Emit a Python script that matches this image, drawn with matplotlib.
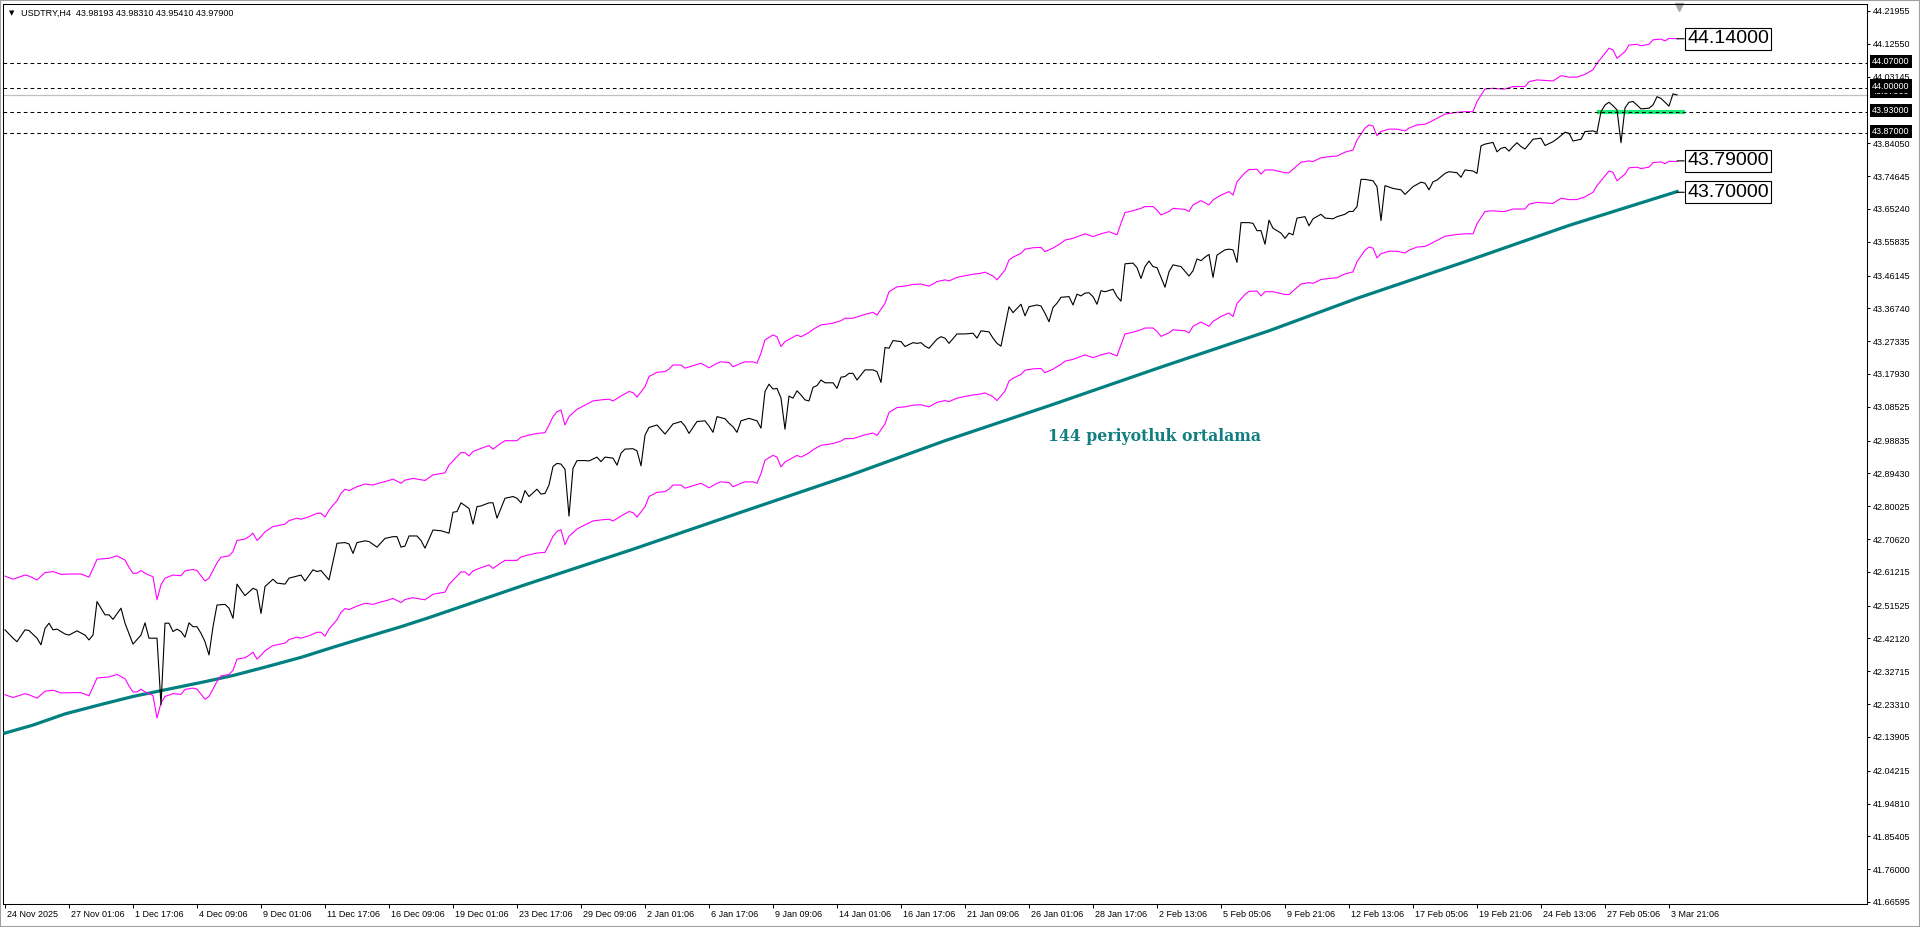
import matplotlib
matplotlib.use("Agg")
import matplotlib.pyplot as plt
from matplotlib.transforms import ScaledTranslation, blended_transform_factory
from matplotlib.patches import Rectangle

plt.rcParams['font.family'] = ['Liberation Sans', 'DejaVu Sans']

# USDTRY H4 closes, (bar index, price)
price_pts = [
    (0, 42.446), (2, 42.422), (3, 42.412), (5, 42.446), (6, 42.444), (8, 42.422), (9, 42.403),
    (10, 42.450), (11, 42.465), (12, 42.446), (13, 42.448), (15, 42.434), (16, 42.431), (18, 42.443),
    (20, 42.431), (21, 42.417), (22, 42.431), (23, 42.527), (25, 42.489), (26, 42.489), (27, 42.476),
    (29, 42.508), (30, 42.465), (32, 42.405), (34, 42.431), (35, 42.466), (36, 42.422), (38, 42.422),
    (39, 42.231), (40, 42.465), (41, 42.465), (42, 42.441), (43, 42.448), (44, 42.441), (45, 42.425),
    (46, 42.466), (47, 42.455), (48, 42.455), (49, 42.436), (50, 42.412), (51, 42.374), (52, 42.455),
    (53, 42.517), (55, 42.519), (56, 42.508), (57, 42.479), (58, 42.577), (59, 42.560), (60, 42.544),
    (62, 42.565), (63, 42.560), (64, 42.493), (65, 42.570), (67, 42.591), (68, 42.580), (70, 42.577),
    (71, 42.594), (74, 42.603), (75, 42.586), (77, 42.618), (78, 42.613), (79, 42.616), (81, 42.589),
    (83, 42.694), (85, 42.696), (86, 42.692), (87, 42.665), (88, 42.696), (90, 42.701), (91, 42.699),
    (93, 42.683), (95, 42.708), (97, 42.713), (98, 42.713), (99, 42.683), (100, 42.686), (101, 42.715),
    (103, 42.715), (104, 42.702), (105, 42.680), (107, 42.732), (109, 42.730), (111, 42.723),
    (112, 42.783), (113, 42.785), (114, 42.810), (116, 42.794), (117, 42.749), (118, 42.799),
    (119, 42.801), (121, 42.810), (122, 42.810), (123, 42.766), (125, 42.823), (127, 42.828),
    (128, 42.823), (129, 42.810), (130, 42.845), (131, 42.828), (133, 42.849), (134, 42.835),
    (135, 42.837), (136, 42.861), (137, 42.914), (138, 42.923), (139, 42.921), (140, 42.906),
    (141, 42.772), (142, 42.909), (143, 42.931), (145, 42.931), (146, 42.930), (148, 42.941),
    (149, 42.928), (150, 42.941), (152, 42.938), (153, 42.918), (154, 42.952), (155, 42.964),
    (157, 42.965), (158, 42.959), (159, 42.916), (160, 43.004), (161, 43.026), (163, 43.033),
    (165, 43.007), (167, 43.036), (169, 43.043), (170, 43.030), (171, 43.009), (173, 43.043),
    (175, 43.045), (176, 43.030), (177, 43.012), (178, 43.057), (180, 43.051), (181, 43.038),
    (182, 43.028), (183, 43.012), (184, 43.045), (186, 43.052), (188, 43.045), (189, 43.024),
    (190, 43.129), (191, 43.150), (192, 43.136), (193, 43.138), (194, 43.110), (195, 43.021),
    (196, 43.116), (197, 43.110), (198, 43.131), (199, 43.119), (200, 43.105), (201, 43.102),
    (202, 43.141), (203, 43.146), (204, 43.162), (205, 43.154), (207, 43.154), (208, 43.138),
    (209, 43.170), (210, 43.172), (211, 43.181), (212, 43.181), (213, 43.162), (215, 43.191),
    (217, 43.191), (218, 43.186), (219, 43.155), (220, 43.255), (221, 43.253), (222, 43.275),
    (224, 43.272), (225, 43.258), (227, 43.269), (228, 43.267), (229, 43.269), (230, 43.259),
    (231, 43.253), (233, 43.279), (234, 43.286), (235, 43.282), (236, 43.267), (238, 43.294),
    (240, 43.294), (242, 43.296), (243, 43.282), (244, 43.303), (246, 43.300), (247, 43.282),
    (248, 43.267), (249, 43.259), (251, 43.372), (252, 43.355), (254, 43.379), (255, 43.346),
    (256, 43.372), (258, 43.377), (259, 43.374), (260, 43.353), (261, 43.329), (262, 43.370),
    (263, 43.382), (264, 43.399), (266, 43.401), (267, 43.377), (268, 43.408), (269, 43.403),
    (270, 43.411), (271, 43.412), (272, 43.401), (273, 43.379), (274, 43.418), (275, 43.415),
    (277, 43.422), (278, 43.401), (279, 43.388), (280, 43.495), (282, 43.497), (283, 43.484),
    (284, 43.453), (285, 43.487), (286, 43.503), (287, 43.487), (288, 43.484), (290, 43.428),
    (291, 43.472), (292, 43.492), (294, 43.487), (296, 43.460), (297, 43.475), (298, 43.509),
    (299, 43.504), (300, 43.514), (301, 43.522), (302, 43.456), (303, 43.520), (305, 43.535),
    (306, 43.537), (307, 43.535), (308, 43.499), (309, 43.613), (311, 43.613), (312, 43.611),
    (313, 43.590), (314, 43.590), (315, 43.551), (316, 43.620), (317, 43.597), (319, 43.583),
    (320, 43.568), (321, 43.583), (322, 43.578), (323, 43.626), (325, 43.630), (326, 43.604),
    (327, 43.624), (329, 43.637), (330, 43.626), (332, 43.624), (333, 43.630), (335, 43.637),
    (336, 43.645), (337, 43.645), (338, 43.659), (339, 43.737), (340, 43.737), (342, 43.733),
    (343, 43.716), (344, 43.619), (345, 43.719), (347, 43.711), (349, 43.707), (350, 43.694),
    (352, 43.716), (354, 43.729), (355, 43.726), (356, 43.707), (357, 43.730), (358, 43.735),
    (360, 43.754), (361, 43.759), (363, 43.756), (364, 43.743), (365, 43.764), (367, 43.761),
    (368, 43.754), (369, 43.833), (370, 43.838), (372, 43.843), (373, 43.816), (374, 43.826),
    (375, 43.829), (376, 43.818), (377, 43.831), (378, 43.842), (379, 43.831), (380, 43.824),
    (382, 43.852), (384, 43.855), (385, 43.834), (387, 43.845), (388, 43.853), (390, 43.872),
    (391, 43.869), (392, 43.847), (394, 43.852), (395, 43.874), (397, 43.876), (398, 43.872),
    (399, 43.931), (400, 43.950), (401, 43.958), (402, 43.948), (403, 43.936), (404, 43.842),
    (405, 43.942), (406, 43.958), (407, 43.960), (408, 43.950), (409, 43.939), (411, 43.941),
    (412, 43.950), (413, 43.974), (414, 43.969), (415, 43.958), (416, 43.947), (417, 43.982),
    (418, 43.979),
]

# envelope bands (magenta)
upper_pts = [
    (0, 42.600), (2, 42.591), (5, 42.603), (6, 42.600), (8, 42.589), (10, 42.610), (12, 42.613),
    (14, 42.605), (17, 42.606), (19, 42.606), (21, 42.597), (22, 42.622), (23, 42.648), (26, 42.651),
    (28, 42.658), (30, 42.646), (31, 42.625), (32, 42.608), (33, 42.608), (34, 42.616), (35, 42.608),
    (37, 42.598), (38, 42.532), (39, 42.575), (40, 42.594), (42, 42.603), (44, 42.601), (45, 42.615),
    (47, 42.619), (48, 42.616), (50, 42.586), (51, 42.594), (53, 42.638), (54, 42.654), (56, 42.658),
    (57, 42.670), (58, 42.702), (60, 42.706), (61, 42.713), (62, 42.723), (63, 42.702), (64, 42.713),
    (65, 42.727), (67, 42.742), (68, 42.744), (70, 42.749), (71, 42.759), (73, 42.766), (74, 42.763),
    (76, 42.770), (78, 42.780), (79, 42.780), (80, 42.769), (81, 42.789), (83, 42.816), (84, 42.837),
    (85, 42.849), (86, 42.845), (88, 42.856), (90, 42.864), (92, 42.861), (94, 42.868), (96, 42.874),
    (97, 42.878), (99, 42.866), (100, 42.875), (102, 42.880), (104, 42.876), (105, 42.874),
    (107, 42.890), (110, 42.896), (111, 42.918), (114, 42.954), (115, 42.954), (116, 42.944),
    (117, 42.957), (119, 42.966), (121, 42.974), (122, 42.964), (124, 42.981), (125, 42.988),
    (128, 42.988), (129, 42.998), (131, 43.004), (133, 43.009), (135, 43.011), (136, 43.033),
    (137, 43.057), (138, 43.071), (139, 43.076), (140, 43.033), (141, 43.057), (143, 43.078),
    (145, 43.090), (147, 43.102), (149, 43.105), (151, 43.107), (152, 43.102), (154, 43.116),
    (156, 43.129), (157, 43.126), (158, 43.113), (160, 43.143), (161, 43.172), (163, 43.184),
    (165, 43.186), (166, 43.193), (167, 43.205), (169, 43.205), (170, 43.196), (172, 43.203),
    (174, 43.210), (176, 43.197), (178, 43.210), (179, 43.214), (181, 43.212), (182, 43.200),
    (184, 43.210), (185, 43.214), (187, 43.214), (188, 43.210), (189, 43.239), (190, 43.277),
    (192, 43.291), (193, 43.286), (194, 43.258), (195, 43.272), (198, 43.291), (199, 43.286),
    (201, 43.298), (202, 43.307), (204, 43.320), (206, 43.323), (207, 43.325), (209, 43.332),
    (210, 43.339), (212, 43.339), (215, 43.350), (217, 43.356), (218, 43.348), (220, 43.382),
    (221, 43.415), (223, 43.429), (225, 43.431), (227, 43.436), (229, 43.437), (231, 43.431),
    (233, 43.444), (235, 43.449), (236, 43.446), (238, 43.456), (240, 43.461), (242, 43.465),
    (244, 43.468), (245, 43.471), (247, 43.460), (248, 43.449), (250, 43.477), (251, 43.506),
    (252, 43.514), (254, 43.525), (255, 43.537), (257, 43.541), (259, 43.542), (260, 43.530),
    (262, 43.540), (264, 43.554), (265, 43.563), (267, 43.568), (270, 43.581), (272, 43.573),
    (274, 43.581), (276, 43.587), (278, 43.578), (279, 43.611), (280, 43.642), (282, 43.647),
    (284, 43.654), (285, 43.659), (287, 43.659), (288, 43.649), (289, 43.635), (291, 43.645),
    (292, 43.654), (295, 43.651), (296, 43.645), (297, 43.664), (299, 43.676), (301, 43.664),
    (302, 43.678), (304, 43.692), (306, 43.702), (307, 43.692), (308, 43.730), (310, 43.756),
    (311, 43.765), (313, 43.766), (314, 43.752), (315, 43.764), (317, 43.764), (320, 43.756),
    (321, 43.756), (324, 43.786), (326, 43.790), (327, 43.788), (329, 43.799), (331, 43.802),
    (333, 43.804), (335, 43.815), (337, 43.821), (338, 43.850), (340, 43.884), (341, 43.893),
    (342, 43.890), (343, 43.862), (344, 43.874), (346, 43.881), (348, 43.881), (350, 43.876),
    (351, 43.884), (353, 43.893), (355, 43.895), (356, 43.900), (358, 43.912), (360, 43.924),
    (363, 43.929), (365, 43.931), (367, 43.931), (368, 43.960), (370, 43.996), (372, 43.998),
    (374, 43.996), (375, 43.996), (377, 44.003), (380, 44.003), (381, 44.017), (383, 44.022),
    (387, 44.019), (389, 44.034), (391, 44.030), (393, 44.030), (395, 44.038), (397, 44.051),
    (398, 44.070), (400, 44.098), (401, 44.113), (402, 44.108), (403, 44.084), (405, 44.103),
    (406, 44.122), (408, 44.124), (409, 44.120), (411, 44.124), (412, 44.137), (414, 44.139),
    (415, 44.134), (416, 44.141), (418, 44.140),
]

lower_pts = [
    (0, 42.260), (2, 42.252), (5, 42.263), (6, 42.260), (8, 42.250), (10, 42.270), (12, 42.273),
    (14, 42.265), (17, 42.266), (19, 42.266), (21, 42.257), (22, 42.282), (23, 42.308), (26, 42.311),
    (28, 42.318), (30, 42.306), (31, 42.285), (32, 42.268), (33, 42.268), (34, 42.276), (35, 42.268),
    (37, 42.258), (38, 42.193), (39, 42.236), (40, 42.255), (42, 42.263), (44, 42.261), (45, 42.275),
    (47, 42.279), (48, 42.276), (50, 42.247), (51, 42.255), (53, 42.298), (54, 42.314), (56, 42.318),
    (57, 42.330), (58, 42.362), (60, 42.366), (61, 42.373), (62, 42.382), (63, 42.362), (64, 42.373),
    (65, 42.386), (67, 42.401), (68, 42.403), (70, 42.408), (71, 42.418), (73, 42.425), (74, 42.422),
    (76, 42.429), (78, 42.439), (79, 42.439), (80, 42.428), (81, 42.448), (83, 42.475), (84, 42.496),
    (85, 42.507), (86, 42.504), (88, 42.514), (90, 42.522), (92, 42.519), (94, 42.526), (96, 42.532),
    (97, 42.536), (99, 42.524), (100, 42.533), (102, 42.538), (104, 42.534), (105, 42.532),
    (107, 42.548), (110, 42.554), (111, 42.576), (114, 42.612), (115, 42.612), (116, 42.602),
    (117, 42.615), (119, 42.624), (121, 42.632), (122, 42.622), (124, 42.638), (125, 42.645),
    (128, 42.645), (129, 42.655), (131, 42.661), (133, 42.666), (135, 42.668), (136, 42.690),
    (137, 42.714), (138, 42.728), (139, 42.733), (140, 42.690), (141, 42.714), (143, 42.735),
    (145, 42.747), (147, 42.758), (149, 42.761), (151, 42.763), (152, 42.758), (154, 42.772),
    (156, 42.785), (157, 42.782), (158, 42.769), (160, 42.799), (161, 42.828), (163, 42.840),
    (165, 42.842), (166, 42.849), (167, 42.861), (169, 42.861), (170, 42.852), (172, 42.859),
    (174, 42.866), (176, 42.853), (178, 42.866), (179, 42.870), (181, 42.868), (182, 42.856),
    (184, 42.866), (185, 42.870), (187, 42.870), (188, 42.866), (189, 42.894), (190, 42.932),
    (192, 42.946), (193, 42.941), (194, 42.913), (195, 42.927), (198, 42.946), (199, 42.941),
    (201, 42.953), (202, 42.962), (204, 42.975), (206, 42.978), (207, 42.980), (209, 42.987),
    (210, 42.994), (212, 42.994), (215, 43.005), (217, 43.010), (218, 43.003), (220, 43.036),
    (221, 43.069), (223, 43.083), (225, 43.085), (227, 43.090), (229, 43.091), (231, 43.085),
    (233, 43.098), (235, 43.103), (236, 43.100), (238, 43.110), (240, 43.115), (242, 43.119),
    (244, 43.122), (245, 43.125), (247, 43.114), (248, 43.103), (250, 43.130), (251, 43.159),
    (252, 43.167), (254, 43.178), (255, 43.190), (257, 43.194), (259, 43.195), (260, 43.183),
    (262, 43.193), (264, 43.207), (265, 43.216), (267, 43.221), (270, 43.234), (272, 43.226),
    (274, 43.234), (276, 43.240), (278, 43.231), (279, 43.263), (280, 43.294), (282, 43.299),
    (284, 43.306), (285, 43.311), (287, 43.311), (288, 43.301), (289, 43.287), (291, 43.297),
    (292, 43.306), (295, 43.303), (296, 43.297), (297, 43.316), (299, 43.328), (301, 43.316),
    (302, 43.330), (304, 43.344), (306, 43.354), (307, 43.344), (308, 43.381), (310, 43.407),
    (311, 43.416), (313, 43.417), (314, 43.403), (315, 43.415), (317, 43.415), (320, 43.407),
    (321, 43.407), (324, 43.437), (326, 43.441), (327, 43.439), (329, 43.450), (331, 43.453),
    (333, 43.455), (335, 43.466), (337, 43.472), (338, 43.501), (340, 43.534), (341, 43.543),
    (342, 43.540), (343, 43.512), (344, 43.524), (346, 43.531), (348, 43.531), (350, 43.526),
    (351, 43.534), (353, 43.543), (355, 43.545), (356, 43.550), (358, 43.562), (360, 43.574),
    (363, 43.579), (365, 43.581), (367, 43.581), (368, 43.610), (370, 43.645), (372, 43.647),
    (374, 43.645), (375, 43.645), (377, 43.652), (380, 43.652), (381, 43.666), (383, 43.671),
    (387, 43.668), (389, 43.683), (391, 43.679), (393, 43.679), (395, 43.687), (397, 43.700),
    (398, 43.719), (400, 43.747), (401, 43.761), (402, 43.757), (403, 43.733), (405, 43.752),
    (406, 43.770), (408, 43.772), (409, 43.768), (411, 43.772), (412, 43.785), (414, 43.787),
    (415, 43.782), (416, 43.789), (418, 43.788),
]

# 144-period moving average (teal)
ma_pts = [
    (0, 42.150), (7, 42.173), (15, 42.205), (24, 42.232), (32, 42.255), (40, 42.274), (49, 42.295),
    (57, 42.315), (65, 42.339), (74, 42.367), (82, 42.396), (90, 42.424), (99, 42.455), (106, 42.481),
    (130, 42.575), (157, 42.677), (184, 42.783), (211, 42.888), (235, 42.988), (262, 43.092),
    (289, 43.199), (316, 43.303), (338, 43.396), (365, 43.501), (391, 43.605), (418, 43.702),
]

levels = [44.07, 44.00, 43.93, 43.87]
bid = 43.979
support_level = 43.93
support_bars = (398, 420)

box_labels = [44.14, 43.79, 43.70]

x_tick_bars = list(range(0, 417, 16))
x_tick_labels = ["24 Nov 2025", "27 Nov 01:06", "1 Dec 17:06", "4 Dec 09:06", "9 Dec 01:06",
                 "11 Dec 17:06", "16 Dec 09:06", "19 Dec 01:06", "23 Dec 17:06", "29 Dec 09:06",
                 "2 Jan 01:06", "6 Jan 17:06", "9 Jan 09:06", "14 Jan 01:06", "16 Jan 17:06",
                 "21 Jan 09:06", "26 Jan 01:06", "28 Jan 17:06", "2 Feb 13:06", "5 Feb 05:06",
                 "9 Feb 21:06", "12 Feb 13:06", "17 Feb 05:06", "19 Feb 21:06", "24 Feb 13:06",
                 "27 Feb 05:06", "3 Mar 21:06"]

y_ticks = [44.21955, 44.12550, 44.03145, 43.84050, 43.74645, 43.65240, 43.55835, 43.46145,
           43.36740, 43.27335, 43.17930, 43.08525, 42.98835, 42.89430, 42.80025, 42.70620,
           42.61215, 42.51525, 42.42120, 42.32715, 42.23310, 42.13905, 42.04215, 41.94810,
           41.85405, 41.76000, 41.66595]

title = "USDTRY,H4  43.98193 43.98310 43.95410 43.97900"
ma_note = "144 periyotluk ortalama"

W, H = 1920, 927
fig = plt.figure(figsize=(W / 100, H / 100), dpi=100)
fig.patch.set_facecolor('white')
ax = fig.add_axes([3 / W, 1 - 904 / H, (1867 - 3) / W, (904 - 4) / H])
ax.set_xlim(-0.5, 465.5)
ax.set_ylim(41.6602, 44.2396)

def split(pts):
    return [p[0] for p in pts], [p[1] for p in pts]

mx, my = split(ma_pts)
ax.plot(mx, my, color='#008080', lw=2.3, zorder=3)
ux, uy = split(upper_pts)
ax.plot(ux, uy, color='#ff00ff', lw=0.8, zorder=3)
lx, ly = split(lower_pts)
ax.plot(lx, ly, color='#ff00ff', lw=0.8, zorder=3)
px, py = split(price_pts)
ax.plot(px, py, color='black', lw=0.8, zorder=5)

# horizontal levels
ax.axhline(bid, color='#c0c0c0', lw=0.9, zorder=2)
ax.hlines(support_level, support_bars[0], support_bars[1], color='#1aee78', lw=3.0, zorder=3.5)
for lv in levels:
    ax.axhline(lv, color='black', lw=0.75, linestyle=(0, (3.5, 3)), zorder=4)

# value boxes next to the line ends
last_bar = px[-1]
for val in box_labels:
    ax.annotate(f"{val:.5f}", xy=(last_bar, val), xytext=(10, 0), textcoords='offset pixels',
                ha='left', va='center', fontsize=14, color='black',
                bbox=dict(boxstyle='square,pad=0.12', fc='white', ec='black', lw=0.8),
                arrowprops=dict(arrowstyle='-', color='black', lw=0.8, shrinkA=0, shrinkB=0),
                zorder=6)

ax.text(260.75, 42.999, ma_note, family='DejaVu Serif', fontweight='bold', fontsize=11.3,
        color='#127f80', ha='left', va='center', zorder=6)

# shift marker
ax.plot([last_bar + 0.5], [0.997], marker='v', markersize=6, color='#a8a8a8',
        transform=blended_transform_factory(ax.transData, ax.transAxes), clip_on=False)

# axes styling
for sp in ax.spines.values():
    sp.set_color('black')
    sp.set_linewidth(0.75)

ax.yaxis.tick_right()
ax.set_yticks(y_ticks)
ax.set_yticklabels([f"{v:.5f}" for v in y_ticks])
ax.tick_params(axis='y', direction='out', length=2.5, width=0.75, pad=1.5, labelsize=6.5)

ax.set_xticks(x_tick_bars)
ax.set_xticklabels(x_tick_labels, ha='left')
ax.tick_params(axis='x', direction='out', length=3, width=0.75, pad=1, labelsize=6.5)
shift = ScaledTranslation(2 / 100, 0, fig.dpi_scale_trans)
for lbl in ax.get_xticklabels():
    lbl.set_transform(lbl.get_transform() + shift)

# price boxes on the right axis (bid box sits under the 44.00 box)
for val in [bid] + levels:
    lift = 3.5 if val == bid else 1.5
    ytrans = ax.get_yaxis_transform() + ScaledTranslation(5 / 100, lift / 100, fig.dpi_scale_trans)
    ax.text(1.0, val, f"{val:.5f}", transform=ytrans, ha='left', va='center', fontsize=6.5,
            color='white', clip_on=False, zorder=7 if val != bid else 6,
            bbox=dict(boxstyle='square,pad=0.25', fc='black', ec='black', lw=0))

fig.text(21 / W, 1 - 13 / H, title, fontsize=6.5, ha='left', va='center')
fig.text(9 / W, 1 - 13 / H, "\u25bc", fontsize=5, ha='left', va='center', family='DejaVu Sans')

fig.patches.append(Rectangle((0, 0), 1, 1, transform=fig.transFigure, fill=False,
                             ec='#a0a0a0', lw=1.5))

fig.savefig('out.png', dpi=100)
